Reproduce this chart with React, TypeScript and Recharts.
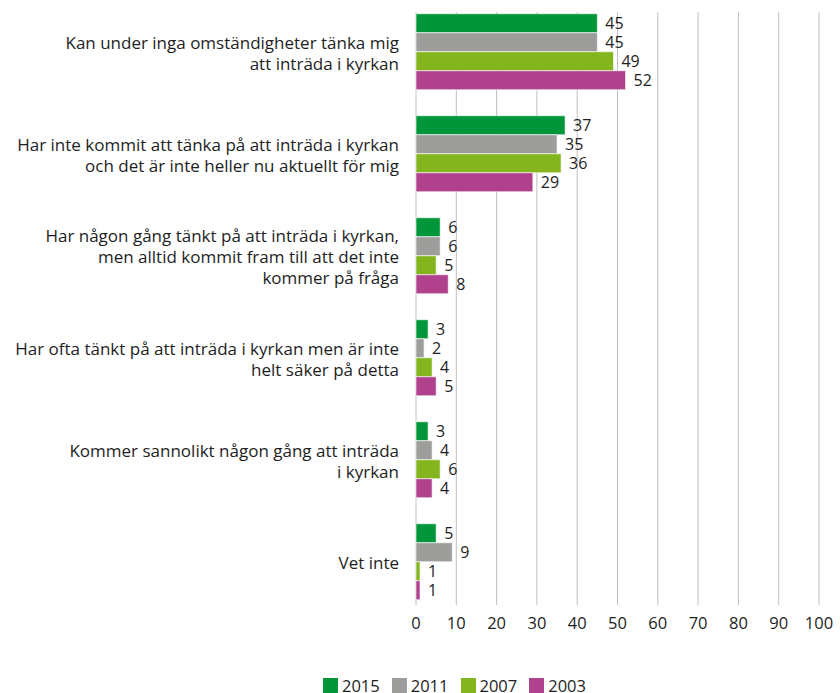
import { BarChart, Bar, XAxis, YAxis, CartesianGrid, Legend, LabelList } from 'recharts';

// survey answers, one entry per category (line breaks as in the original)
const categories = [
    'Kan under inga omständigheter tänka mig\natt inträda i kyrkan',
    'Har inte kommit att tänka på att inträda i kyrkan\noch det är inte heller nu aktuellt för mig',
    'Har någon gång tänkt på att inträda i kyrkan,\nmen alltid kommit fram till att det inte\nkommer på fråga',
    'Har ofta tänkt på att inträda i kyrkan men är inte\nhelt säker på detta',
    'Kommer sannolikt någon gång att inträda\ni kyrkan',
    'Vet inte',
];

const values2015 = [45, 37, 6, 3, 3, 5];
const values2011 = [45, 35, 6, 2, 4, 9];
const values2007 = [49, 36, 5, 4, 6, 1];
const values2003 = [52, 29, 8, 5, 4, 1];

const xTicks = [0, 10, 20, 30, 40, 50, 60, 70, 80, 90, 100];

const series = [
    { key: 'y2015', name: '2015', color: '#009639' },
    { key: 'y2011', name: '2011', color: '#9d9d9c' },
    { key: 'y2007', name: '2007', color: '#84b51f' },
    { key: 'y2003', name: '2003', color: '#b0418c' },
];

const data = categories.map((name, i) => ({
    name,
    y2015: values2015[i],
    y2011: values2011[i],
    y2007: values2007[i],
    y2003: values2003[i],
}));

const FONT = '"Open Sans", sans-serif';
const TEXT = '#1e1e1e';

const CategoryTick = ({ x, y, payload }: any) => {
    const lines = String(payload.value).split('\n');
    const lineH = 21;
    const startY = y - ((lines.length - 1) * lineH) / 2;
    return (
        <text x={x} y={startY} textAnchor="end" fill={TEXT} fontSize={17} fontFamily={FONT} dominantBaseline="central">
            {lines.map((l, i) => (
                <tspan key={i} x={x} y={startY + i * lineH}>
                    {l}
                </tspan>
            ))}
        </text>
    );
};

// grid lines stop a little short of the band edges, like the original
const GridLine = (props: any) => {
    const { x1, x2, y1, y2 } = props;
    return <line key={props.key} x1={x1} x2={x2} y1={Math.min(y1, y2) + 11} y2={Math.max(y1, y2) - 8} stroke="#bfbfbf" strokeWidth={1} />;
};

const LegendContent = () => (
    <div style={{ width: 840, height: 50, boxSizing: 'border-box', paddingTop: 35, paddingLeft: 323, display: 'flex', fontFamily: FONT, fontSize: 16.5, color: TEXT }}>
        {series.map((s) => (
            <div key={s.key} style={{ display: 'flex', alignItems: 'center', height: 15, marginRight: 12 }}>
                <span style={{ display: 'inline-block', width: 15, height: 15, background: s.color, marginRight: 4 }} />
                <span style={{ lineHeight: '15px' }}>{s.name}</span>
            </div>
        ))}
    </div>
);

export default function App() {
    return (
        <div style={{ position: 'absolute', left: 0, top: 0, background: '#fff' }}>
            <BarChart
                width={840}
                height={693}
                data={data}
                layout="vertical"
                margin={{ top: 1, right: 21, left: 0, bottom: 0 }}
                barCategoryGap="12.5%"
                barGap={0}
            >
                <CartesianGrid horizontal={false} vertical={GridLine} />
                <XAxis
                    type="number"
                    domain={[0, 100]}
                    ticks={xTicks}
                    axisLine={false}
                    tickLine={false}
                    tickSize={0}
                    tickMargin={4}
                    height={30}
                    tick={{ fontSize: 16.5, fill: TEXT, fontFamily: FONT }}
                    interval={0}
                />
                <YAxis
                    type="category"
                    dataKey="name"
                    width={416}
                    axisLine={false}
                    tickLine={false}
                    tickSize={0}
                    tickMargin={17}
                    tick={<CategoryTick />}
                    interval={0}
                />
                <Legend verticalAlign="bottom" height={50} wrapperStyle={{ left: 0, width: 840 }} content={<LegendContent />} />
                {series.map((s) => (
                    <Bar key={s.key} dataKey={s.key} name={s.name} fill={s.color} stroke="#fff" strokeWidth={0.6} isAnimationActive={false}>
                        <LabelList dataKey={s.key} position="right" offset={8} fill={TEXT} fontSize={16} fontFamily={FONT} />
                    </Bar>
                ))}
            </BarChart>
        </div>
    );
}
